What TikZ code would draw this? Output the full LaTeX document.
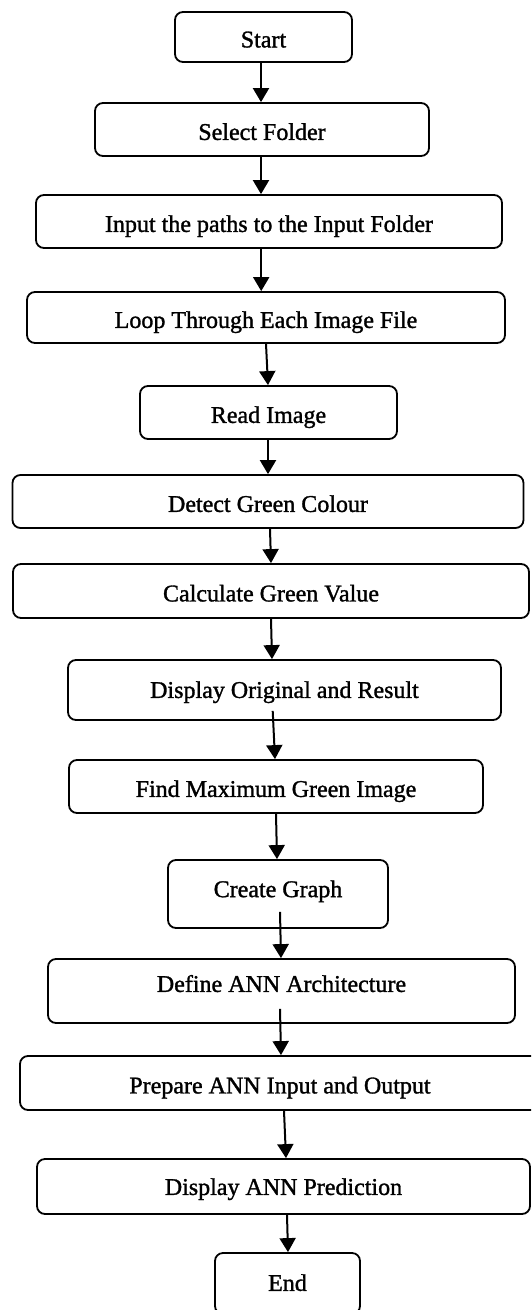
\documentclass[tikz,border=0pt]{standalone}
\usepackage{fontspec}
\setmainfont{Liberation Serif}[FakeBold=1.3]
\usetikzlibrary{arrows.meta}
\begin{document}
\begin{tikzpicture}[x=1pt,y=-1pt,
  box/.style={draw=black, line width=1.8pt, rounded corners=8pt, inner sep=0pt,
    font=\fontsize{24}{28}\selectfont, text height=26.8pt, text depth=6pt, align=center},
  flow/.style={line width=2pt, -{Triangle[width=16pt,length=14pt]}}]
\useasboundingbox (0,0) rectangle (531,1310);
\clip (0,0) rectangle (531,1310);
\node[box, minimum width=177pt, minimum height=50pt] (start) at (263.5,37) {Start};
\node[box, minimum width=334pt, minimum height=53pt] (select) at (262,129.5) {Select Folder};
\node[box, minimum width=466pt, minimum height=53pt] (input) at (269,221.5) {Input the paths to the Input Folder};
\node[box, minimum width=478pt, minimum height=51pt] (loop) at (266,317.5) {Loop Through Each Image File};
\node[box, minimum width=257pt, minimum height=53pt] (read) at (268.5,412.5) {Read Image};
\node[box, minimum width=511pt, minimum height=53pt] (detect) at (268,501.5) {Detect Green Colour};
\node[box, minimum width=516pt, minimum height=54pt] (calc) at (271,591) {Calculate Green Value};
\node[box, minimum width=433pt, minimum height=60pt, text depth=11pt] (disp) at (284.5,690) {Display Original and Result};
\node[box, minimum width=414pt, minimum height=53pt] (find) at (276,786.5) {Find Maximum Green Image};
\node[box, minimum width=220pt, minimum height=68pt, text depth=20.6pt] (graph) at (278,894) {Create Graph};
\node[box, minimum width=467pt, minimum height=64pt, text depth=25pt] (define) at (281.5,991) {Define ANN Architecture};
\node[box, minimum width=520pt, minimum height=54pt] (prep) at (280,1083) {Prepare ANN Input and Output};
\node[box, minimum width=493pt, minimum height=55pt, text depth=10pt] (pred) at (283.5,1186.5) {Display ANN Prediction};
\node[box, minimum width=145pt, minimum height=61pt, text depth=12pt] (end) at (287.5,1283.5) {End};

\draw[flow] ([xshift=-2.5pt]start.south) -- ([xshift=-1pt]select.north);
\draw[flow] ([xshift=-1pt]select.south) -- ([xshift=-8pt]input.north);
\draw[flow] ([xshift=-7.8pt]input.south) -- ([xshift=-4.8pt]loop.north);
\draw[flow] (loop.south) -- ([xshift=-0.5pt]read.north);
\draw[flow] ([xshift=-0.5pt]read.south) -- ([xshift=0pt]detect.north);
\draw[flow] ([xshift=2pt]detect.south) -- ([xshift=0pt]calc.north);
\draw[flow] ([xshift=0pt]calc.south) -- ([xshift=-12.5pt]disp.north);
\draw[flow] ([xshift=-11.8pt,yshift=10pt]disp.south) -- ([xshift=-1pt]find.north);
\draw[flow] ([xshift=0pt]find.south) -- ([xshift=-1pt]graph.north);
\draw[flow] ([xshift=2pt,yshift=17pt]graph.south) -- ([xshift=-0.5pt]define.north);
\draw[flow] ([xshift=-1.5pt,yshift=15pt]define.south) -- ([xshift=1pt]prep.north);
\draw[flow] ([xshift=4pt]prep.south) -- ([xshift=2.5pt]pred.north);
\draw[flow] ([xshift=3.5pt]pred.south) -- ([xshift=0.5pt]end.north);
\end{tikzpicture}
\end{document}
